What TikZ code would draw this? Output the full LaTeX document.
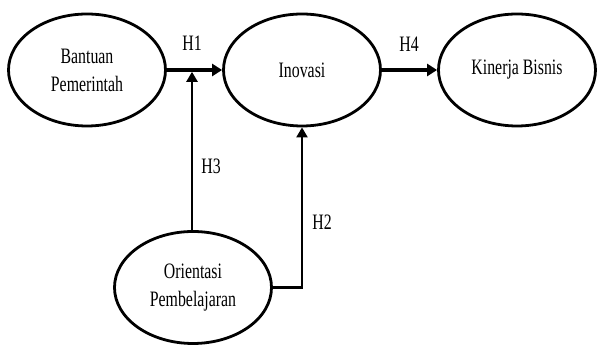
\documentclass[tikz,border=0pt]{standalone}
\usepackage{fontspec}
\setmainfont{Liberation Serif}
\usetikzlibrary{shapes.geometric,arrows.meta}
\newcommand{\sqz}[1]{\scalebox{0.72}[1]{#1}}
\tikzset{
  var/.style={ellipse,draw=black,line width=2.8pt,minimum width=157pt,minimum height=112pt,inner sep=0pt,align=center,
    font=\fontsize{22}{28}\selectfont},
  hlab/.style={font=\fontsize{22}{27}\selectfont,inner sep=0pt},
  thick arrow/.style={line width=3.2pt,-{Triangle[length=10pt,width=12pt]}},
  thin arrow/.style={line width=2.2pt,-{Triangle[length=10pt,width=11pt]}},
}
\begin{document}
\begin{tikzpicture}[x=1pt,y=1pt]
\useasboundingbox (0,0) rectangle (598,347);
\node[var] (bp) at (87,277) {\sqz{Bantuan}\\\sqz{Pemerintah}};
\node[var] (ino) at (302,277) {\sqz{Inovasi}};
\node[var] (kb) at (517,277) {\sqz{Kinerja Bisnis}};
\node[var] (op) at (193,59.5) {\sqz{Orientasi}\\\sqz{Pembelajaran}};
\coordinate (j) at (192,275.2);
\draw[thick arrow] (bp.east) -- (ino.west);
\draw[thick arrow] (ino.east) -- (kb.west);
\draw[thin arrow] (op.north -| j) -- (j);
\draw[thin arrow] (op.east) -| (ino.south);
\node[hlab] (h1) at (192,304) {\sqz{H1}};
\node[hlab] (h4) at (409,303) {\sqz{H4}};
\node[hlab] (h3) at (211,181) {\sqz{H3}};
\node[hlab] (h2) at (322,125) {\sqz{H2}};
\end{tikzpicture}
\end{document}
